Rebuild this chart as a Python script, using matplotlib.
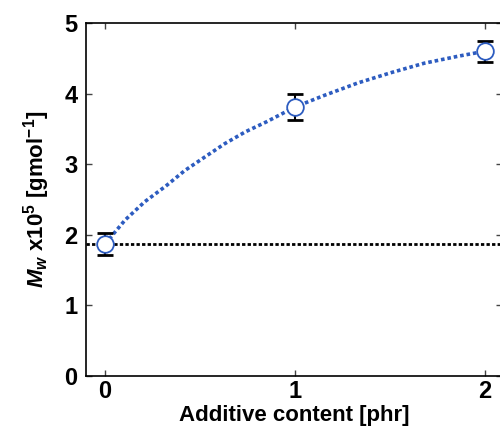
import numpy as np
import matplotlib.pyplot as plt

plt.rcParams['font.family'] = 'Liberation Sans'
plt.rcParams['font.weight'] = 'bold'
plt.rcParams['mathtext.fontset'] = 'custom'
plt.rcParams['mathtext.rm'] = 'Liberation Sans:bold'
plt.rcParams['mathtext.it'] = 'Liberation Sans:italic:bold'
plt.rcParams['mathtext.bf'] = 'Liberation Sans:bold'

# measured points
additive = [0, 1, 2]
mw = [1.87, 3.81, 4.60]
mw_err = [0.16, 0.18, 0.15]

# smooth fitted curve
curve_x = [0, 0.106, 0.21, 0.32, 0.42, 0.53, 0.63, 0.74, 0.85, 0.95, 1.0,
           1.15, 1.33, 1.51, 1.68, 1.86, 2.0]
curve_y = [1.87, 2.21, 2.47, 2.69, 2.91, 3.11, 3.29, 3.46, 3.60, 3.74, 3.81,
           3.97, 4.15, 4.30, 4.43, 4.53, 4.60]

baseline = 1.87

fig = plt.figure(figsize=(5, 4.26), dpi=100)
ax = fig.add_axes([0.172, 0.1174, 0.832, 0.8286])

ax.axhline(baseline, color='black', linestyle=(0, (1.2, 0.8)), linewidth=2)
ax.plot(curve_x, curve_y, color='#2d5cc0', linestyle=(0, (1, 0.8)), linewidth=2.6)
ax.errorbar(additive, mw, yerr=mw_err, fmt='none', ecolor='black',
            elinewidth=1.5, capsize=6, capthick=2)
ax.plot(additive, mw, 'o', markersize=12, markerfacecolor='white',
        markeredgecolor='#2d5cc0', markeredgewidth=1.3)

ax.set_xlim(-0.1, 2.09)
ax.set_ylim(0, 5)
ax.set_xticks([0, 1, 2])
ax.set_yticks([0, 1, 2, 3, 4, 5])
ax.tick_params(direction='in', length=4, width=1, labelsize=17,
               top=True, right=True, color='#444444')
ax.tick_params(axis='y', pad=6)
ax.tick_params(axis='x', pad=3)
for lbl in ax.get_xticklabels() + ax.get_yticklabels():
    lbl.set_fontweight('bold')
for s in ax.spines.values():
    s.set_linewidth(1.2)

ax.set_xlabel('Additive content [phr]', fontsize=16, fontweight='bold', labelpad=1)
ax.set_ylabel(r'$M_w$ x10$^5$ [gmol$^{-1}$]', fontsize=16, fontweight='bold', labelpad=9)

fig.savefig('out.png', dpi=100)
